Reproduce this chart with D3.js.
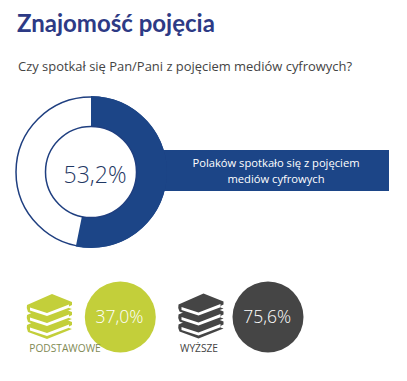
<!DOCTYPE html>
<html>
<head>
<meta charset="utf-8">
<script src="https://cdn.jsdelivr.net/npm/d3@7"></script>
<style>
body { margin: 0; background: #fff; }
text { font-family: "Open Sans", sans-serif; }
</style>
</head>
<body>
<script>
var title = "Znajomość pojęcia"
var question = "Czy spotkał się Pan/Pani z pojęciem mediów cyfrowych?"
var shareLabels = ["Tak", "Nie"]
var shareValues = [53.2, 46.8]
var calloutLines = ["Polaków spotkało się z pojęciem", "mediów cyfrowych"]
var eduLabels = ["PODSTAWOWE", "WYŻSZE"]
var eduValues = [37.0, 75.6]

var blue = "#1c4587", green = "#c3cf3a", dark = "#454545"

function fmt(v) { return v.toFixed(1).replace(".", ",") + "%" }

var svg = d3.select("body").append("svg")
    .attr("width", 407)
    .attr("height", 381)
    .style("display", "block")

svg.append("text").attr("x", 17).attr("y", 32)
    .attr("font-size", 24).attr("font-weight", 700).attr("fill", "#2d3a85")
    .style("font-family", "Lato, sans-serif")
    .text(title)

svg.append("text").attr("x", 18).attr("y", 71)
    .attr("font-size", 12.95).attr("fill", "#444")
    .text(question)

// Callout bar sits behind the donut
svg.append("rect").attr("x", 150).attr("y", 150)
    .attr("width", 239).attr("height", 41).attr("fill", blue)

calloutLines.forEach(function(line, i) {
    svg.append("text").attr("x", 276).attr("y", 167 + i * 15.5)
        .attr("text-anchor", "middle").attr("font-size", 11.2).attr("fill", "#fff")
        .text(line)
})

// Donut
var donut = svg.append("g").attr("transform", "translate(91,172)")
var pie = d3.pie().sort(null)
var arc = d3.arc().innerRadius(45.5).outerRadius(76)

donut.append("circle").attr("r", 75).attr("fill", "#fff").attr("stroke", "#1f3f80").attr("stroke-width", 1.5)
donut.selectAll("path").data(pie(shareValues)).enter().append("path")
    .attr("d", arc)
    .attr("fill", function(d, i) { return i == 0 ? blue : "none" })
donut.append("circle").attr("r", 45.5).attr("fill", "#fff").attr("stroke", "#1f3f80").attr("stroke-width", 1.5)
donut.append("text").attr("x", 4).attr("y", 11).attr("text-anchor", "middle")
    .attr("font-size", 23).attr("font-weight", 350).attr("fill", "#1f3864")
    .text(fmt(shareValues[0]))

// Book stack icon
function book(g, y, color) {
    var b = g.append("g").attr("transform", "translate(0," + y + ")")
    b.append("path")
        .attr("d", "M0 11 L25 0 L45 8 L45 11 L42 12.5 L42 14 L45 15 L20 25 L1 18 Q-1 14 0 11 Z")
        .attr("fill", color)
    b.append("path")
        .attr("d", "M3 13.5 L20 19 L42 10.5 L42 13.8 L20 22 L3 16.5 Z")
        .attr("fill", "#fff")
}

var eduX = [120.3, 268], eduY = [317, 317], iconX = [27, 178.5], iconY = [294, 293.5]
var colors = [green, dark], labelX = [65, 199], labelY = [352, 352]
var labelColors = ["#7f8a55", "#444"]

eduValues.forEach(function(v, i) {
    var g = svg.append("g")
    var icon = g.append("g").attr("transform", "translate(" + iconX[i] + "," + iconY[i] + ")")
    book(icon, 20, colors[i])
    book(icon, 10, colors[i])
    book(icon, 0, colors[i])
    g.append("circle").attr("cx", eduX[i]).attr("cy", eduY[i]).attr("r", 35.5).attr("fill", colors[i])
    g.append("text").attr("x", eduX[i] - 0.8).attr("y", eduY[i] + 5.5)
        .attr("text-anchor", "middle").attr("font-size", 17.5).attr("font-weight", 350).attr("fill", "#fff")
        .text(fmt(v))
    g.append("text").attr("x", labelX[i]).attr("y", labelY[i])
        .attr("text-anchor", "middle").attr("font-size", 10.2).attr("fill", labelColors[i])
        .text(eduLabels[i])
})
</script>
</body>
</html>
